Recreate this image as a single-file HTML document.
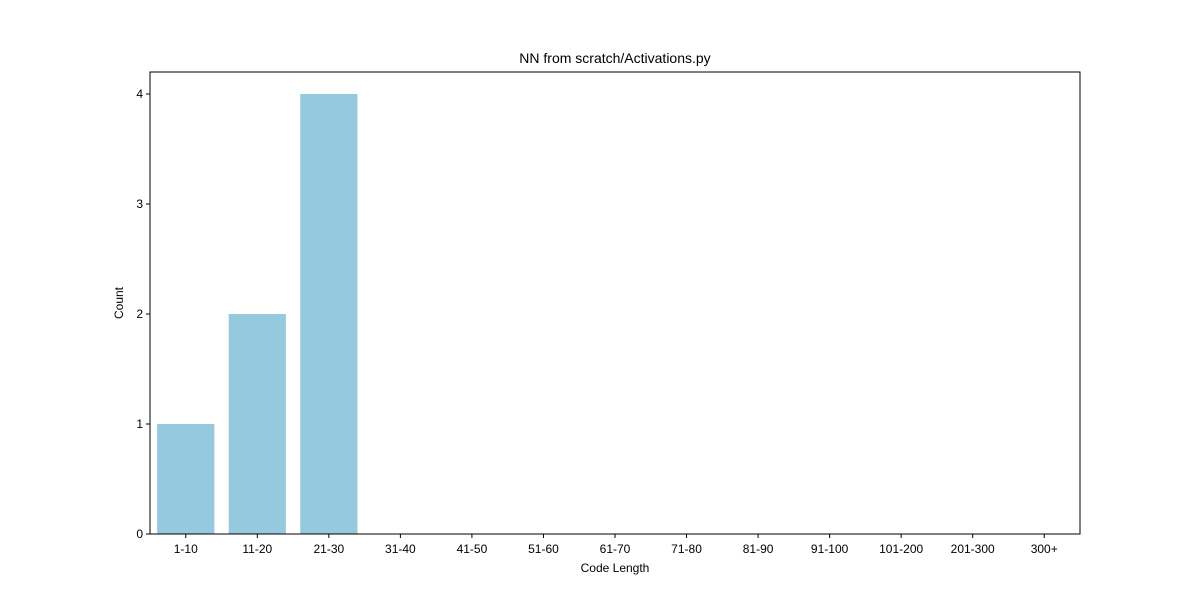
<!DOCTYPE html>
<html><head><meta charset="utf-8"><style>
body{margin:0;background:#fff;font-family:"Liberation Sans","DejaVu Sans",sans-serif}
svg text{font-family:"Liberation Sans","DejaVu Sans",sans-serif;fill:#000}
</style></head><body>
<svg id="chart" width="1200" height="600" xmlns="http://www.w3.org/2000/svg">
<rect width="1200" height="600" fill="#fff"/>
<text x="615" y="63" font-size="14" text-anchor="middle">NN from scratch/Activations.py</text>
<g id="bars"></g>
<g id="xticks"></g>
<g id="yticks"></g>
<rect x="150" y="72" width="930" height="462" fill="none" stroke="#000" stroke-width="1"/>
<text x="615" y="572" font-size="12" text-anchor="middle">Code Length</text>
<text transform="translate(123,303) rotate(-90)" font-size="12" text-anchor="middle">Count</text>
</svg>
<script>
const categories=["1-10","11-20","21-30","31-40","41-50","51-60","61-70","71-80","81-90","91-100","101-200","201-300","300+"];
const counts=[1,2,4,0,0,0,0,0,0,0,0,0,0];
const yTicks=[0,1,2,3,4];
const L=150,R=1080,T=72,B=534,yMax=4.2;
const ns="http://www.w3.org/2000/svg";
const step=(R-L)/categories.length;
const xc=i=>L+step*(i+0.5);
const y=v=>B-(B-T)*v/yMax;
const bars=document.getElementById('bars'),xt=document.getElementById('xticks'),yt=document.getElementById('yticks');
function mk(t,a){const e=document.createElementNS(ns,t);for(const k in a)e.setAttribute(k,a[k]);return e;}
categories.forEach((c,i)=>{
 if(counts[i]>0){
  const r=mk('rect',{x:xc(i)-step*0.4,y:y(counts[i]),width:step*0.8,height:B-y(counts[i]),fill:'#95c9de'});
  
  
  bars.appendChild(r);
 }
 const tk=mk('line',{x1:xc(i),x2:xc(i),y1:B,y2:B+4,stroke:'#000'});
 
 
 xt.appendChild(tk);
 const tx=mk('text',{x:xc(i),y:B+19,'font-size':12,'text-anchor':'middle'});
 tx.textContent=c;
 
 
 xt.appendChild(tx);
});
yTicks.forEach(v=>{
 const tk=mk('line',{x1:L-4,x2:L,y1:y(v),y2:y(v),stroke:'#000'});
 
 
 yt.appendChild(tk);
 const tx=mk('text',{x:L-7,y:y(v)+4,'font-size':12,'text-anchor':'end'});
 tx.textContent=v;
 
 
 yt.appendChild(tx);
});
</script>
</body></html>
